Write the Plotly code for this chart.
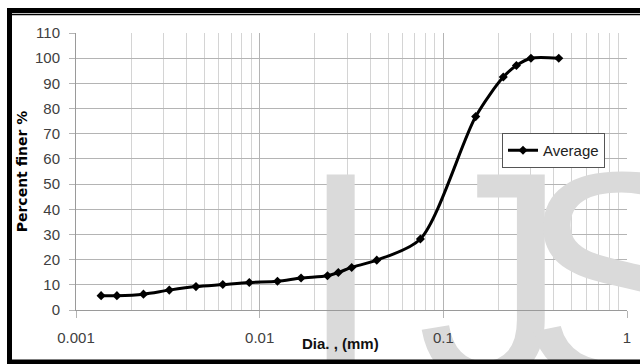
import plotly.graph_objects as go

# Data
diameter_mm = [0.00137, 0.00167, 0.00233, 0.00322, 0.0045, 0.0063, 0.00878,
               0.0125, 0.0168, 0.0234, 0.0268, 0.0317, 0.0434, 0.075,
               0.15, 0.212, 0.25, 0.3, 0.425]
percent_finer = [5.7, 5.7, 6.3, 7.9, 9.3, 10.1, 10.9, 11.4, 12.7, 13.6, 14.9,
                 16.9, 19.8, 28.2, 76.8, 92.5, 97.1, 100, 100]
series_name = "Average"

x_tick_vals = [0.001, 0.01, 0.1, 1]
x_tick_text = ["0.001", "0.01", "0.1", "1"]
y_tick_vals = list(range(0, 111, 10))
minor_vals = [m * d for d in (0.001, 0.01, 0.1) for m in range(2, 10)]

watermark_letters = ["I", "J", "S"]

W, H = 640, 364
L, R, T, B = 76, 13, 33, 54
PW, PH = W - L - R, H - T - B
X_RANGE = (-3, 0)
Y_RANGE = (0, 110)


def px(x):
    return (x - L) / PW


def py(y):
    return (H - B - y) / PH


def data_x(pixel):
    return 10 ** (X_RANGE[0] + (pixel - L) / PW * (X_RANGE[1] - X_RANGE[0]))


def data_y(pixel):
    return Y_RANGE[0] + (H - B - pixel) / PH * (Y_RANGE[1] - Y_RANGE[0])


fig = go.Figure()

# watermark (drawn beneath the data line)
wm_px = [299, 417, 520]
fig.add_trace(go.Scatter(
    x=[data_x(p) for p in wm_px], y=[data_y(306)] * 3, mode="text",
    text=watermark_letters,
    textposition="middle right", showlegend=False, hoverinfo="skip",
    cliponaxis=False,
    textfont=dict(family="Liberation Sans", size=300, color="#dadada"),
))

fig.add_trace(go.Scatter(
    x=diameter_mm, y=percent_finer, name=series_name,
    mode="lines+markers",
    line=dict(color="black", width=3, shape="spline", smoothing=0.8),
    marker=dict(symbol="diamond", size=7, color="black"),
))

grid_major = "#b4b4b4"
grid_minor = "#d4d4d4"
tick_font = dict(family="Liberation Sans", size=15, color="#404040")

fig.update_layout(
    width=W, height=H,
    margin=dict(l=L, r=R, t=T, b=B),
    paper_bgcolor="white", plot_bgcolor="white",
    showlegend=True,
    legend=dict(x=px(502), y=py(133), xanchor="left", yanchor="top",
                bgcolor="white", bordercolor="#555555", borderwidth=1,
                font=dict(family="Liberation Sans", size=15, color="#222222"),
                itemwidth=30, tracegroupgap=0),
    xaxis=dict(type="log", range=list(X_RANGE), tickvals=x_tick_vals, ticktext=x_tick_text,
               showgrid=True, gridcolor=grid_major, gridwidth=1,
               ticks="outside", ticklen=7, tickcolor=grid_major,
               showline=True, linecolor="#9a9a9a", linewidth=1,
               tickfont=tick_font, ticklabelstandoff=7,
               minor=dict(tickvals=minor_vals, showgrid=True, gridcolor=grid_minor,
                          gridwidth=1, ticks=""),
               zeroline=False, automargin=False),
    yaxis=dict(range=list(Y_RANGE), tickvals=y_tick_vals,
               showgrid=True, gridcolor=grid_major, gridwidth=1,
               ticks="outside", ticklen=6, tickcolor=grid_major,
               showline=True, linecolor="#9a9a9a", linewidth=1,
               tickfont=tick_font, ticklabelstandoff=6,
               title=dict(text="Percent finer %", standoff=4,
                          font=dict(family="DejaVu Sans", size=14, color="black",
                                    weight="bold")),
               zeroline=False, automargin=False),
)

# x axis title placed as in the reference
fig.add_annotation(text="<b>Dia. , (mm)</b>", xref="paper", yref="paper",
                   x=px(340), y=py(343), xanchor="center", yanchor="middle",
                   showarrow=False,
                   font=dict(family="Liberation Sans", size=15, color="#111111"))

# double black frame
fig.add_shape(type="line", xref="paper", yref="paper",
              x0=px(7), x1=px(700), y0=py(10.5), y1=py(10.5),
              line=dict(color="black", width=5))
fig.add_shape(type="line", xref="paper", yref="paper",
              x0=px(12), x1=px(700), y0=py(14.5), y1=py(14.5),
              line=dict(color="black", width=1.5))
fig.add_shape(type="line", xref="paper", yref="paper",
              x0=px(9.5), x1=px(9.5), y0=py(8), y1=py(364),
              line=dict(color="black", width=5))
fig.add_shape(type="line", xref="paper", yref="paper",
              x0=px(7), x1=px(700), y0=py(362), y1=py(362),
              line=dict(color="black", width=5))

fig.write_html("out.html",
               config={"displayModeBar": False},
               post_script="document.body.style.margin='0';"
                           "document.body.style.overflow='hidden';")
